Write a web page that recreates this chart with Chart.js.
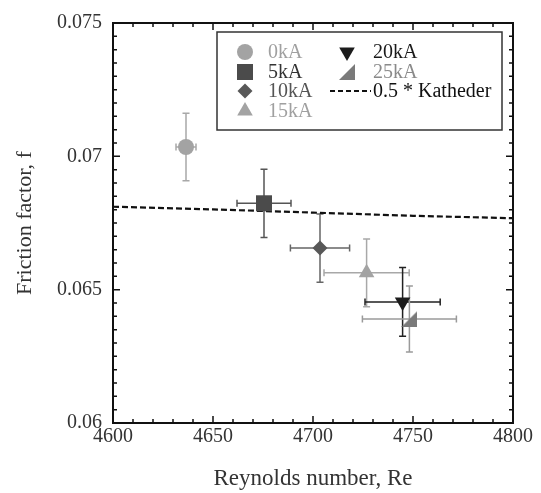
<!DOCTYPE html>
<html>
<head>
<meta charset="utf-8">
<script src="https://cdn.jsdelivr.net/npm/chart.js@4.4.0/dist/chart.umd.min.js"></script>
<style>
html, body { margin: 0; padding: 0; background: #fff; }
#wrap { width: 541px; height: 493px; }
</style>
</head>
<body>
<div id="wrap"><canvas id="chart"></canvas></div>
<script>
// data
const labels = ['0kA', '5kA', '10kA', '15kA', '20kA', '25kA'];
const reynolds = [4636.5, 4675.5, 4703.5, 4726.8, 4744.8, 4748.2];
const friction = [0.07035, 0.06824, 0.06656, 0.06563, 0.06454, 0.0639];
const reError = [5, 13.5, 14.8, 21.3, 18.8, 23.5];
const fError = [0.00127, 0.00128, 0.00128, 0.00127, 0.00129, 0.00124];
const kathederRe = [4600, 4650, 4700, 4750, 4800];
const kathederF = [0.06811, 0.06801, 0.06789, 0.06777, 0.06768];
const xTicks = [4600, 4650, 4700, 4750, 4800];
const yTicks = [0.06, 0.065, 0.07, 0.075];

// styles
const serif = 'Liberation Serif';
const colors = ['#a3a3a3', '#4b4b4b', '#585858', '#a3a3a3', '#1c1c1c', '#7a7a7a'];
const barColors = ['#a8a8a8', '#555555', '#666666', '#a8a8a8', '#222222', '#9a9a9a'];
const textColors = ['#a0a0a0', '#333333', '#555555', '#a0a0a0', '#1a1a1a', '#8a8a8a'];

// half-square triangle for 25kA
const halfTri = document.createElement('canvas');
halfTri.width = 16; halfTri.height = 16;
const hctx = halfTri.getContext('2d');
hctx.fillStyle = colors[5];
hctx.beginPath();
hctx.moveTo(0, 16); hctx.lineTo(16, 16); hctx.lineTo(16, 0);
hctx.closePath(); hctx.fill();

const markers = ['circle', 'rect', 'rectRot', 'triangle', 'triangle', halfTri];
const rotations = [0, 0, 0, 0, 180, 0];
const radii = [8, 11.3, 7.5, 9, 9, 8];

const datasets = labels.map((l, i) => ({
    label: l,
    data: [{x: reynolds[i], y: friction[i]}],
    pointStyle: markers[i],
    rotation: rotations[i],
    pointRadius: radii[i],
    pointBackgroundColor: colors[i],
    pointBorderWidth: 0,
    showLine: false
}));
datasets.push({
    label: '0.5 * Katheder',
    data: kathederRe.map((x, i) => ({x: x, y: kathederF[i]})),
    showLine: true,
    borderColor: '#111',
    borderWidth: 2.2,
    borderDash: [6, 3],
    pointRadius: 0
});

// error bars under the markers
const errorBars = {
    id: 'errorBars',
    beforeDatasetsDraw(chart) {
        const ctx = chart.ctx, xs = chart.scales.x, ys = chart.scales.y;
        ctx.save();
        ctx.lineWidth = 1.5;
        labels.forEach((l, i) => {
            const x = xs.getPixelForValue(reynolds[i]);
            const y = ys.getPixelForValue(friction[i]);
            const x0 = xs.getPixelForValue(reynolds[i] - reError[i]);
            const x1 = xs.getPixelForValue(reynolds[i] + reError[i]);
            const y0 = ys.getPixelForValue(friction[i] - fError[i]);
            const y1 = ys.getPixelForValue(friction[i] + fError[i]);
            const c = 3.5;
            ctx.strokeStyle = barColors[i];
            ctx.beginPath();
            ctx.moveTo(x0, y); ctx.lineTo(x1, y);
            ctx.moveTo(x0, y - c); ctx.lineTo(x0, y + c);
            ctx.moveTo(x1, y - c); ctx.lineTo(x1, y + c);
            ctx.moveTo(x, y0); ctx.lineTo(x, y1);
            ctx.moveTo(x - c, y0); ctx.lineTo(x + c, y0);
            ctx.moveTo(x - c, y1); ctx.lineTo(x + c, y1);
            ctx.stroke();
        });
        ctx.restore();
    }
};

// frame with inward ticks on all sides, plus the legend box
const frame = {
    id: 'frame',
    afterDraw(chart) {
        const ctx = chart.ctx, a = chart.chartArea, xs = chart.scales.x, ys = chart.scales.y;
        ctx.save();
        ctx.strokeStyle = '#111';
        ctx.lineWidth = 2;
        ctx.strokeRect(a.left, a.top, a.right - a.left, a.bottom - a.top);
        ctx.lineWidth = 1.5;
        ctx.beginPath();
        for (let v = 4600; v <= 4800; v += 10) {
            const px = xs.getPixelForValue(v);
            const len = v % 50 === 0 ? 7 : 4;
            ctx.moveTo(px, a.bottom); ctx.lineTo(px, a.bottom - len);
            ctx.moveTo(px, a.top); ctx.lineTo(px, a.top + len);
        }
        for (let k = 0; k <= 30; k++) {
            const py = ys.getPixelForValue(0.06 + k * 0.0005);
            const len = k % 10 === 0 ? 7 : 4;
            ctx.moveTo(a.left, py); ctx.lineTo(a.left + len, py);
            ctx.moveTo(a.right, py); ctx.lineTo(a.right - len, py);
        }
        ctx.stroke();

        // legend
        const bx = 217, by = 32, bw = 285, bh = 98;
        ctx.fillStyle = '#fff';
        ctx.fillRect(bx, by, bw, bh);
        ctx.strokeStyle = '#333';
        ctx.lineWidth = 1.5;
        ctx.strokeRect(bx, by, bw, bh);
        ctx.font = '20px "' + serif + '"';
        ctx.textBaseline = 'middle';
        const rows = [52, 72, 91, 111];
        const pos = [[245, 268, 0], [245, 268, 1], [245, 268, 2], [245, 268, 3], [347, 373, 0], [347, 373, 1]];
        labels.forEach((l, i) => {
            const [mx, tx, r] = pos[i];
            ctx.fillStyle = colors[i];
            if (Chart.helpers && Chart.helpers.drawPoint) {
                Chart.helpers.drawPoint(ctx, {pointStyle: markers[i], radius: radii[i], rotation: rotations[i], borderWidth: 0}, mx, rows[r]);
            }
            ctx.fillStyle = textColors[i];
            ctx.fillText(l, tx, rows[r] + 1);
        });
        ctx.strokeStyle = '#111';
        ctx.lineWidth = 2;
        ctx.setLineDash([5, 3]);
        ctx.beginPath();
        ctx.moveTo(330, rows[2]); ctx.lineTo(371, rows[2]);
        ctx.stroke();
        ctx.setLineDash([]);
        ctx.fillStyle = '#111';
        ctx.fillText('0.5 * Katheder', 373, rows[2] + 1);
        ctx.restore();
    }
};

new Chart(document.getElementById('chart'), {
    type: 'scatter',
    data: { datasets: datasets },
    options: {
        responsive: true,
        maintainAspectRatio: false,
        animation: false,
        layout: { padding: { top: 20, right: 28, left: 0, bottom: 0 } },
        plugins: { legend: { display: false }, tooltip: { enabled: false } },
        scales: {
            x: {
                type: 'linear', min: 4600, max: 4800,
                afterBuildTicks: s => { s.ticks = xTicks.map(v => ({value: v})); },
                afterFit: s => { s.height = 70; },
                grid: { display: false, drawTicks: false },
                border: { display: false },
                ticks: { color: '#333', padding: 2, font: { family: serif, size: 20 },
                         callback: v => String(v) },
                title: { display: true, text: 'Reynolds number, Re', color: '#333',
                         font: { family: serif, size: 23 }, padding: { top: 0, bottom: 0 } }
            },
            y: {
                type: 'linear', min: 0.06, max: 0.075,
                afterBuildTicks: s => { s.ticks = yTicks.map(v => ({value: v})); },
                afterFit: s => { s.width = 113; },
                grid: { display: false, drawTicks: false },
                border: { display: false },
                ticks: { color: '#333', padding: 11, font: { family: serif, size: 20 },
                         callback: v => String(Number(v.toFixed(3))) },
                title: { display: true, text: 'Friction factor, f', color: '#333',
                         font: { family: serif, size: 22 }, padding: { top: 12, bottom: 0 } }
            }
        }
    },
    plugins: [errorBars, frame]
});
</script>
</body>
</html>
